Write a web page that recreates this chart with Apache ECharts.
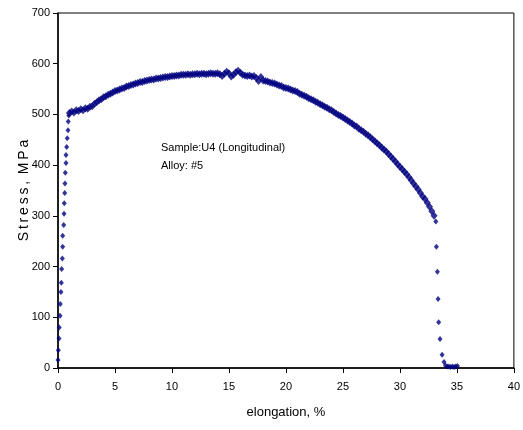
<!DOCTYPE html>
<html>
<head>
<meta charset="utf-8">
<style>
  html, body { margin: 0; padding: 0; background: #fff; }
  #chart { width: 523px; height: 430px; }
</style>
<script src="https://cdn.jsdelivr.net/npm/echarts@6/dist/echarts.min.js"></script>
</head>
<body>
<div id="chart"></div>
<script>
// Tensile test, sample U4 (longitudinal), alloy #5
// Elastic loading segment
const elasticStrain = [0.00, 0.03, 0.09, 0.11, 0.18, 0.20, 0.26, 0.29, 0.32, 0.38, 0.41, 0.41, 0.50,
  0.53, 0.55, 0.59, 0.61, 0.64, 0.70, 0.70, 0.76, 0.81, 0.88, 0.90, 0.95];
const elasticStress = [16, 35, 58, 80, 103, 126, 150, 168, 195, 216, 239, 261, 282,
  304, 325, 345, 364, 385, 404, 420, 436, 453, 469, 486, 498];

// Plastic deformation up to necking and fracture onset
const plasticStrain = [
  1.0, 1.2, 1.4, 1.6, 1.8, 2.0, 2.2, 2.4, 2.6, 2.8,
  3.0, 3.2, 3.4, 3.6, 3.8, 4.0, 4.2, 4.4, 4.6, 4.8,
  5.0, 5.2, 5.4, 5.6, 5.8, 6.0, 6.2, 6.4, 6.6, 6.8,
  7.0, 7.2, 7.4, 7.6, 7.8, 8.0, 8.2, 8.4, 8.6, 8.8,
  9.0, 9.2, 9.4, 9.6, 9.8, 10.0, 10.2, 10.4, 10.6, 10.8,
  11.0, 11.2, 11.4, 11.6, 11.8, 12.0, 12.2, 12.4, 12.6, 12.8,
  13.0, 13.2, 13.4, 13.6, 13.8, 14.0, 14.2, 14.4, 14.6, 14.8,
  15.0, 15.2, 15.4, 15.6, 15.8, 16.0, 16.2, 16.4, 16.6, 16.8,
  17.0, 17.2, 17.4, 17.6, 17.8, 18.0, 18.2, 18.4, 18.6, 18.8,
  19.0, 19.2, 19.4, 19.6, 19.8, 20.0, 20.2, 20.4, 20.6, 20.8,
  21.0, 21.2, 21.4, 21.6, 21.8, 22.0, 22.2, 22.4, 22.6, 22.8,
  23.0, 23.2, 23.4, 23.6, 23.8, 24.0, 24.2, 24.4, 24.6, 24.8,
  25.0, 25.2, 25.4, 25.6, 25.8, 26.0, 26.2, 26.4, 26.6, 26.8,
  27.0, 27.2, 27.4, 27.6, 27.8, 28.0, 28.2, 28.4, 28.6, 28.8,
  29.0, 29.2, 29.4, 29.6, 29.8, 30.0, 30.2, 30.4, 30.6, 30.8,
  31.0, 31.2, 31.4, 31.6, 31.8, 32.0, 32.2, 32.4, 32.6, 32.8,
  33.0
];
const plasticStress = [
  503, 506, 504, 508, 507, 510, 508, 512, 511, 515,
  516, 521, 524, 528, 530, 534, 536, 539, 541, 543,
  546, 547, 549, 551, 552, 555, 556, 558, 559, 561,
  562, 564, 564, 566, 567, 568, 569, 569, 571, 571,
  572, 573, 574, 574, 575, 576, 576, 577, 577, 578,
  578, 578, 579, 578, 579, 579, 580, 579, 580, 580,
  579, 580, 581, 580, 580, 581, 579, 576, 580, 584,
  581, 575, 578, 583, 586, 582, 578, 577, 576, 577,
  575, 576, 572, 566, 574, 567, 566, 565, 563, 562,
  561, 559, 557, 556, 553, 552, 551, 549, 547, 546,
  544, 541, 539, 537, 535, 532, 530, 528, 525, 523,
  520, 518, 515, 513, 510, 508, 505, 502, 499, 497,
  494, 491, 488, 485, 482, 478, 476, 472, 469, 466,
  462, 459, 455, 451, 447, 443, 439, 435, 431, 427,
  422, 417, 412, 407, 402, 397, 392, 387, 382, 376,
  370, 364, 358, 352, 345, 338, 333, 326, 318, 309,
  300
];

// Fracture: load drop to zero
const fractureStrain = [33.15, 33.20, 33.29, 33.35, 33.40, 33.52, 33.70, 33.87,
  34.00, 34.15, 34.30, 34.45, 34.60, 34.75, 34.90, 35.05];
const fractureStress = [289, 239, 190, 136, 90, 57, 26, 12,
  5, 3, 3, 2, 3, 2, 3, 4];

const xTicks = { min: 0, max: 40, interval: 5 };
const yTicks = { min: 0, max: 700, interval: 100 };

function pairs(xs, ys) {
  return xs.map((x, i) => [x, ys[i]]);
}

const FONT = '"Liberation Sans", Arial, sans-serif';
const NAVY = '#000080';
const chart = echarts.init(document.getElementById('chart'), null, { renderer: 'canvas' });

chart.setOption({
  animation: false,
  backgroundColor: '#ffffff',
  grid: {
    left: 58, right: 8, top: 13, bottom: 62,
    show: true, borderColor: '#000', borderWidth: 1, backgroundColor: '#fff'
  },
  xAxis: {
    type: 'value',
    min: xTicks.min, max: xTicks.max, interval: xTicks.interval,
    name: 'elongation, %',
    nameLocation: 'middle',
    nameGap: 38,
    nameTextStyle: { fontFamily: FONT, fontSize: 13, color: '#000' },
    axisLine: { show: true, onZero: false, lineStyle: { color: '#000', width: 1.5 } },
    axisTick: { show: true, inside: false, length: 5, lineStyle: { color: '#000' } },
    axisLabel: { fontFamily: FONT, fontSize: 11, color: '#000', margin: 13 },
    splitLine: { show: false }
  },
  yAxis: {
    type: 'value',
    min: yTicks.min, max: yTicks.max, interval: yTicks.interval,
    name: 'S\u2009t\u2009r\u2009e\u2009s\u2009s\u2009,\u2009 M\u2009P\u2009a',
    nameLocation: 'middle',
    nameGap: 27,
    nameMoveOverlap: false,
    nameTextStyle: { fontFamily: FONT, fontSize: 14, color: '#000' },
    axisLine: { show: true, lineStyle: { color: '#000', width: 1.5 } },
    axisTick: { show: true, inside: false, length: 5, lineStyle: { color: '#000' } },
    axisLabel: { fontFamily: FONT, fontSize: 11, color: '#000', margin: 8 },
    splitLine: { show: false }
  },
  graphic: [
    {
      type: 'text',
      left: 161, top: 139,
      style: {
        text: 'Sample:U4 (Longitudinal)\nAlloy: #5',
        font: '11px ' + FONT,
        fill: '#000',
        lineHeight: 18
      }
    }
  ],
  series: [
    {
      type: 'scatter',
      data: pairs(elasticStrain, elasticStress),
      symbol: 'diamond',
      symbolSize: [5, 6],
      itemStyle: { color: NAVY },
      silent: true
    },
    {
      type: 'scatter',
      data: pairs(plasticStrain, plasticStress),
      symbol: 'diamond',
      symbolSize: [7, 8],
      itemStyle: { color: NAVY },
      silent: true
    },
    {
      type: 'scatter',
      data: pairs(fractureStrain, fractureStress),
      symbol: 'diamond',
      symbolSize: [5, 6],
      itemStyle: { color: NAVY },
      silent: true
    }
  ]
});
</script>
</body>
</html>
